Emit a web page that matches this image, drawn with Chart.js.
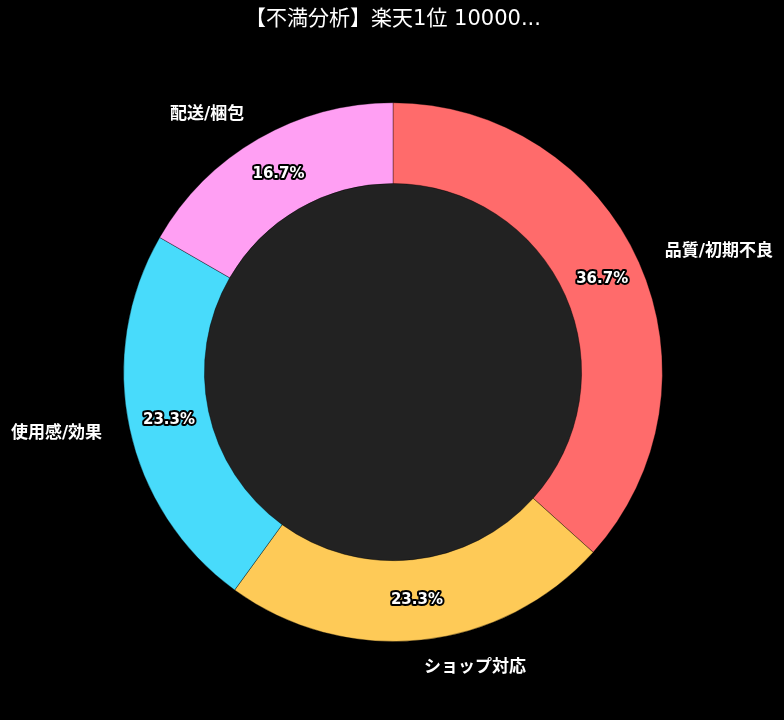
<!DOCTYPE html>
<html>
<head>
<meta charset="utf-8">
<script src="https://cdn.jsdelivr.net/npm/chart.js@4.4.1/dist/chart.umd.min.js"></script>
<style>
html, body { margin: 0; padding: 0; background: #000; }
#wrap { width: 784px; height: 720px; }
</style>
</head>
<body>
<div id="wrap"><canvas id="dissatisfactionChart"></canvas></div>
<script>
// 不満分析 data
const categories = ['品質/初期不良', 'ショップ対応', '使用感/効果', '配送/梱包'];
const counts = [11, 7, 7, 5];
const sliceColors = ['#FF6B6B', '#FECA57', '#48DBFB', '#FF9FF3'];
const chartTitle = '【不満分析】楽天1位 10000...';

const FONT = '"DejaVu Sans", "Noto Sans CJK JP", sans-serif';

// dark disc inside the cutout
const centerFill = {
  id: 'centerFill',
  beforeDatasetsDraw(chart) {
    const arc = chart.getDatasetMeta(0).data[0];
    if (!arc) return;
    const ctx = chart.ctx;
    ctx.save();
    ctx.beginPath();
    ctx.arc(arc.x, arc.y, arc.innerRadius, 0, Math.PI * 2);
    ctx.fillStyle = '#222222';
    ctx.fill();
    ctx.restore();
  }
};

// percentage inside each slice, category name outside
const sliceLabels = {
  id: 'sliceLabels',
  afterDatasetsDraw(chart) {
    const ctx = chart.ctx;
    const meta = chart.getDatasetMeta(0);
    const values = chart.data.datasets[0].data;
    const total = values.reduce((a, b) => a + b, 0);
    ctx.save();
    meta.data.forEach((arc, i) => {
      const mid = (arc.startAngle + arc.endAngle) / 2;
      const cos = Math.cos(mid);
      const sin = Math.sin(mid);

      // percent
      const rMid = (arc.innerRadius + arc.outerRadius) / 2;
      const px = arc.x + cos * rMid;
      const py = arc.y + sin * rMid;
      const pct = (values[i] / total * 100).toFixed(1) + '%';
      ctx.font = 'bold 15px ' + FONT;
      ctx.textAlign = 'center';
      ctx.textBaseline = 'middle';
      ctx.lineJoin = 'round';
      ctx.lineWidth = 4;
      ctx.strokeStyle = '#000';
      ctx.strokeText(pct, px, py);
      ctx.fillStyle = '#fff';
      ctx.fillText(pct, px, py);

      // category name
      const rOut = arc.outerRadius + 28;
      const lx = arc.x + cos * rOut;
      const ly = arc.y + sin * rOut;
      ctx.font = 'bold 17px ' + FONT;
      ctx.textAlign = lx >= arc.x ? 'left' : 'right';
      ctx.fillStyle = '#fff';
      ctx.fillText(chart.data.labels[i], lx, ly);
    });
    ctx.restore();
  }
};

new Chart(document.getElementById('dissatisfactionChart'), {
  type: 'doughnut',
  data: {
    labels: categories,
    datasets: [{
      data: counts,
      backgroundColor: sliceColors,
      borderColor: 'rgba(0, 0, 0, 0.35)',
      borderWidth: 1
    }]
  },
  options: {
    responsive: true,
    maintainAspectRatio: false,
    animation: false,
    cutout: '70%',
    layout: {
      padding: { top: 0, bottom: 78, left: 120, right: 118 }
    },
    plugins: {
      legend: { display: false },
      tooltip: { enabled: false },
      title: {
        display: true,
        text: chartTitle,
        color: '#ffffff',
        font: { family: FONT, size: 21, weight: 'normal' },
        padding: { top: 7, bottom: 70 }
      }
    }
  },
  plugins: [centerFill, sliceLabels]
});
</script>
</body>
</html>
